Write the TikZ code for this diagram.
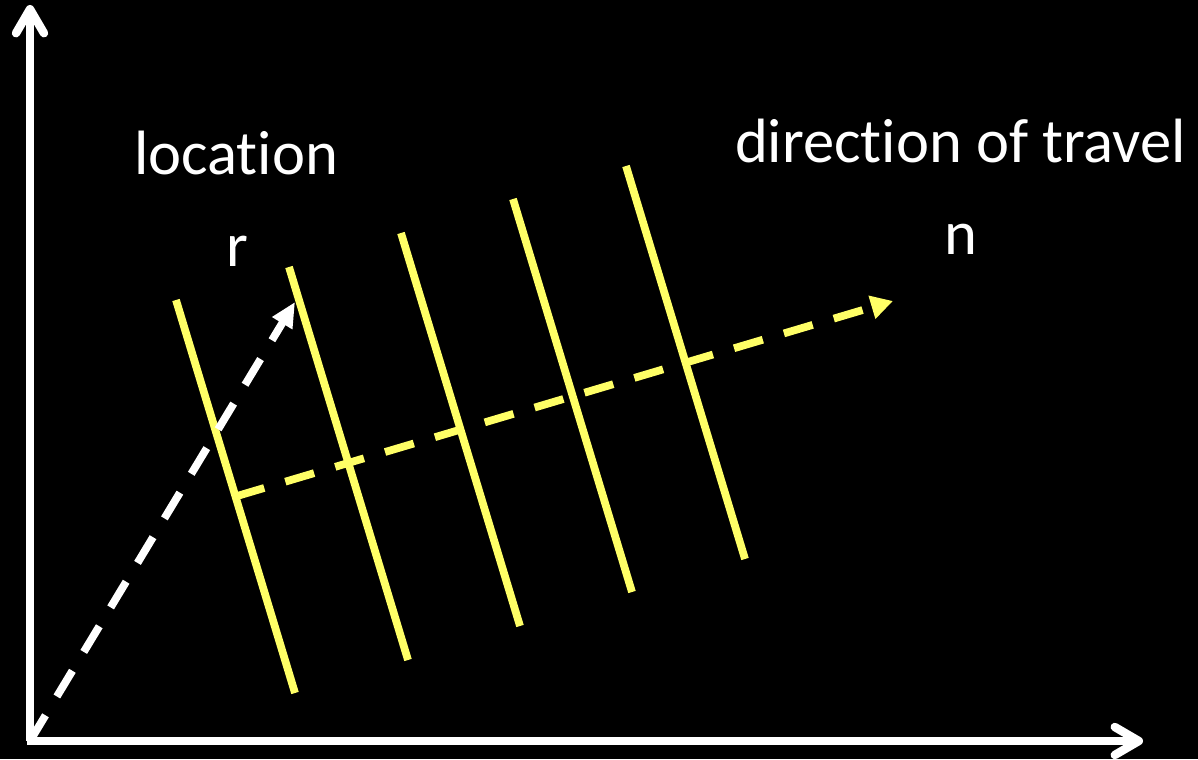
\documentclass[tikz,border=0pt]{standalone}
\usepackage{fontspec}
\setmainfont{Carlito}[Ligatures=NoCommon]
\usetikzlibrary{arrows.meta,calc}
\definecolor{wavefront}{RGB}{255,255,102}

\begin{document}
\begin{tikzpicture}[x=0.025cm,y=-0.025cm,
  axis/.style={white,line width=6pt,-{Straight Barb[round,length=0.6cm,width=0.7cm]}},
  front/.style={wavefront,line width=5.5pt},
  vecline/.style={line width=5.5pt,dash pattern=on 0.75cm off 0.55cm},
  lbl/.style={white,anchor=base,inner sep=0pt,font=\fontsize{44.5}{53}\selectfont}]
  \fill[black] (0,0) rectangle (1198,759);
  \coordinate (O) at (30,741);
  \coordinate (ytop) at (30,5);
  \coordinate (xend) at (1143,741);
  \draw[axis] (O) -- (ytop);
  \draw[axis] (27,741) -- (xend);
  \foreach \i/\x/\y in {1/176/300,2/289/267,3/401/233,4/513/199,5/626/166}
    \draw[front] (\x,\y) coordinate (top\i) -- ++(119,393) coordinate (bot\i);
  \coordinate (rtip) at (295,302);
  \coordinate (nstart) at ($(top1)!0.5!(bot1)$);
  \coordinate (ntip) at (893,301);
  \draw[vecline,white,-{Triangle[length=0.62cm,width=0.55cm]}] (O) -- (rtip);
  \draw[vecline,wavefront,-{Triangle[length=0.55cm,width=0.57cm]}] (nstart) -- (ntip);
  \node[lbl] (loc) at (236,175) {location};
  \node[lbl] (r) at (237,267) {r};
  \node[lbl] (dir) at (960.5,163) {direction of travel};
  \node[lbl] (n) at (961,255) {n};
\end{tikzpicture}
\end{document}
